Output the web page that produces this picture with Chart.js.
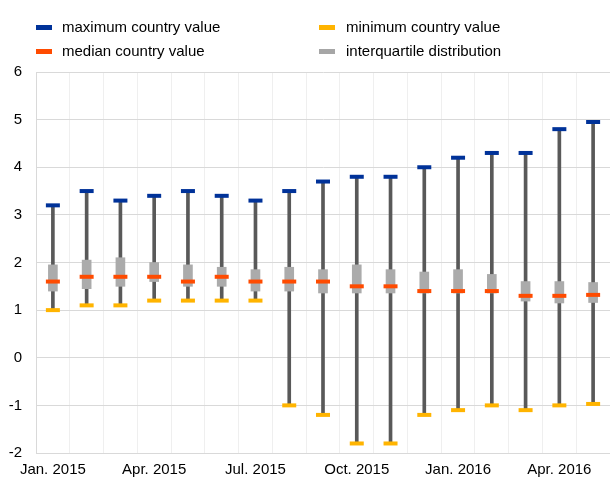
<!DOCTYPE html>
<html>
<head>
<meta charset="utf-8">
<script src="https://cdn.jsdelivr.net/npm/chart.js@4"></script>
<style>
  body { margin: 0; background: #fff; font-family: "Liberation Sans", Arial, sans-serif; }
  #wrap { position: relative; width: 610px; height: 480px; }
  .leg { position: absolute; font-size: 15px; color: #000; white-space: nowrap; line-height: 18px; }
  .sw { position: absolute; width: 16px; height: 5px; }
</style>
</head>
<body>
<div id="wrap">
  <canvas id="chart" width="610" height="480"></canvas>
  <div class="sw" style="left:36px;top:25px;background:#003299"></div>
  <div class="leg" style="left:62px;top:18px">maximum country value</div>
  <div class="sw" style="left:319px;top:25px;background:#FFB400"></div>
  <div class="leg" style="left:346px;top:18px">minimum country value</div>
  <div class="sw" style="left:36px;top:49px;background:#FF4B00"></div>
  <div class="leg" style="left:62px;top:42px">median country value</div>
  <div class="sw" style="left:319px;top:49px;background:#A6A6A6"></div>
  <div class="leg" style="left:346px;top:42px">interquartile distribution</div>
</div>
<script>
// mois (Jan. 2015 - May 2016)
const months = [
  "Jan. 2015", "Feb. 2015", "Mar. 2015", "Apr. 2015", "May 2015", "Jun. 2015",
  "Jul. 2015", "Aug. 2015", "Sep. 2015", "Oct. 2015", "Nov. 2015", "Dec. 2015",
  "Jan. 2016", "Feb. 2016", "Mar. 2016", "Apr. 2016", "May 2016",
];
// only these are shown on the axis
const tickLabels = ["Jan. 2015", "Apr. 2015", "Jul. 2015", "Oct. 2015", "Jan. 2016", "Apr. 2016"];

const maxValues = [3.2, 3.5, 3.3, 3.4, 3.5, 3.4, 3.3, 3.5, 3.7, 3.8, 3.8, 4.0, 4.2, 4.3, 4.3, 4.8, 4.95];
const minValues = [1.0, 1.1, 1.1, 1.2, 1.2, 1.2, 1.2, -1.0, -1.2, -1.8, -1.8, -1.2, -1.1, -1.0, -1.1, -1.0, -0.97];
const medianValues = [1.6, 1.7, 1.7, 1.7, 1.6, 1.7, 1.6, 1.6, 1.6, 1.5, 1.5, 1.4, 1.4, 1.4, 1.3, 1.3, 1.32];
const q1Values = [1.4, 1.45, 1.5, 1.6, 1.5, 1.5, 1.4, 1.4, 1.36, 1.36, 1.36, 1.36, 1.36, 1.36, 1.19, 1.15, 1.16];
const q3Values = [1.95, 2.05, 2.1, 2.0, 1.95, 1.9, 1.85, 1.9, 1.85, 1.95, 1.85, 1.8, 1.85, 1.75, 1.6, 1.6, 1.58];

const whiskers = months.map((m, i) => [minValues[i], maxValues[i]]);
const boxes = months.map((m, i) => [q1Values[i], q3Values[i]]);

function capDataset(label, data, color) {
  return {
    type: "line",
    label: label,
    data: data,
    showLine: false,
    pointStyle: "line",
    pointRadius: 7,
    pointHoverRadius: 7,
    pointBorderWidth: 4,
    pointBorderColor: color,
    borderColor: color,
    order: 0,
  };
}

const ctx = document.getElementById("chart").getContext("2d");
new Chart(ctx, {
  type: "bar",
  data: {
    labels: months,
    datasets: [
      capDataset("maximum country value", maxValues, "#003299"),
      capDataset("minimum country value", minValues, "#FFB400"),
      capDataset("median country value", medianValues, "#FF4B00"),
      {
        label: "interquartile distribution",
        data: boxes,
        backgroundColor: "#ABABAB",
        barThickness: 9,
        grouped: false,
        order: 1,
      },
      {
        label: "range",
        data: whiskers,
        backgroundColor: "#595959",
        barThickness: 3,
        grouped: false,
        order: 2,
      },
    ],
  },
  options: {
    responsive: false,
    animation: false,
    layout: { autoPadding: false, padding: { top: 72, right: 0, bottom: 0, left: 0 } },
    plugins: { legend: { display: false }, tooltip: { enabled: false } },
    scales: {
      x: {
        grid: { color: "#EFEFEF", drawTicks: false, offset: true },
        border: { color: "#D9D9D9" },
        ticks: {
          autoSkip: false,
          maxRotation: 0,
          padding: 8,
          color: "#000",
          font: { family: "Liberation Sans", size: 15 },
          callback: function (v, i) {
            const l = months[i];
            return tickLabels.includes(l) ? l : "";
          },
        },
        afterFit: function (axis) { axis.height = 27; },
      },
      y: {
        min: -2,
        max: 6,
        ticks: {
          stepSize: 1,
          padding: 14,
          color: "#000",
          font: { family: "Liberation Sans", size: 15 },
        },
        grid: { color: "#D9D9D9", drawTicks: false },
        border: { color: "#D9D9D9" },
        afterFit: function (axis) { axis.width = 36; },
      },
    },
  },
});
</script>
</body>
</html>
